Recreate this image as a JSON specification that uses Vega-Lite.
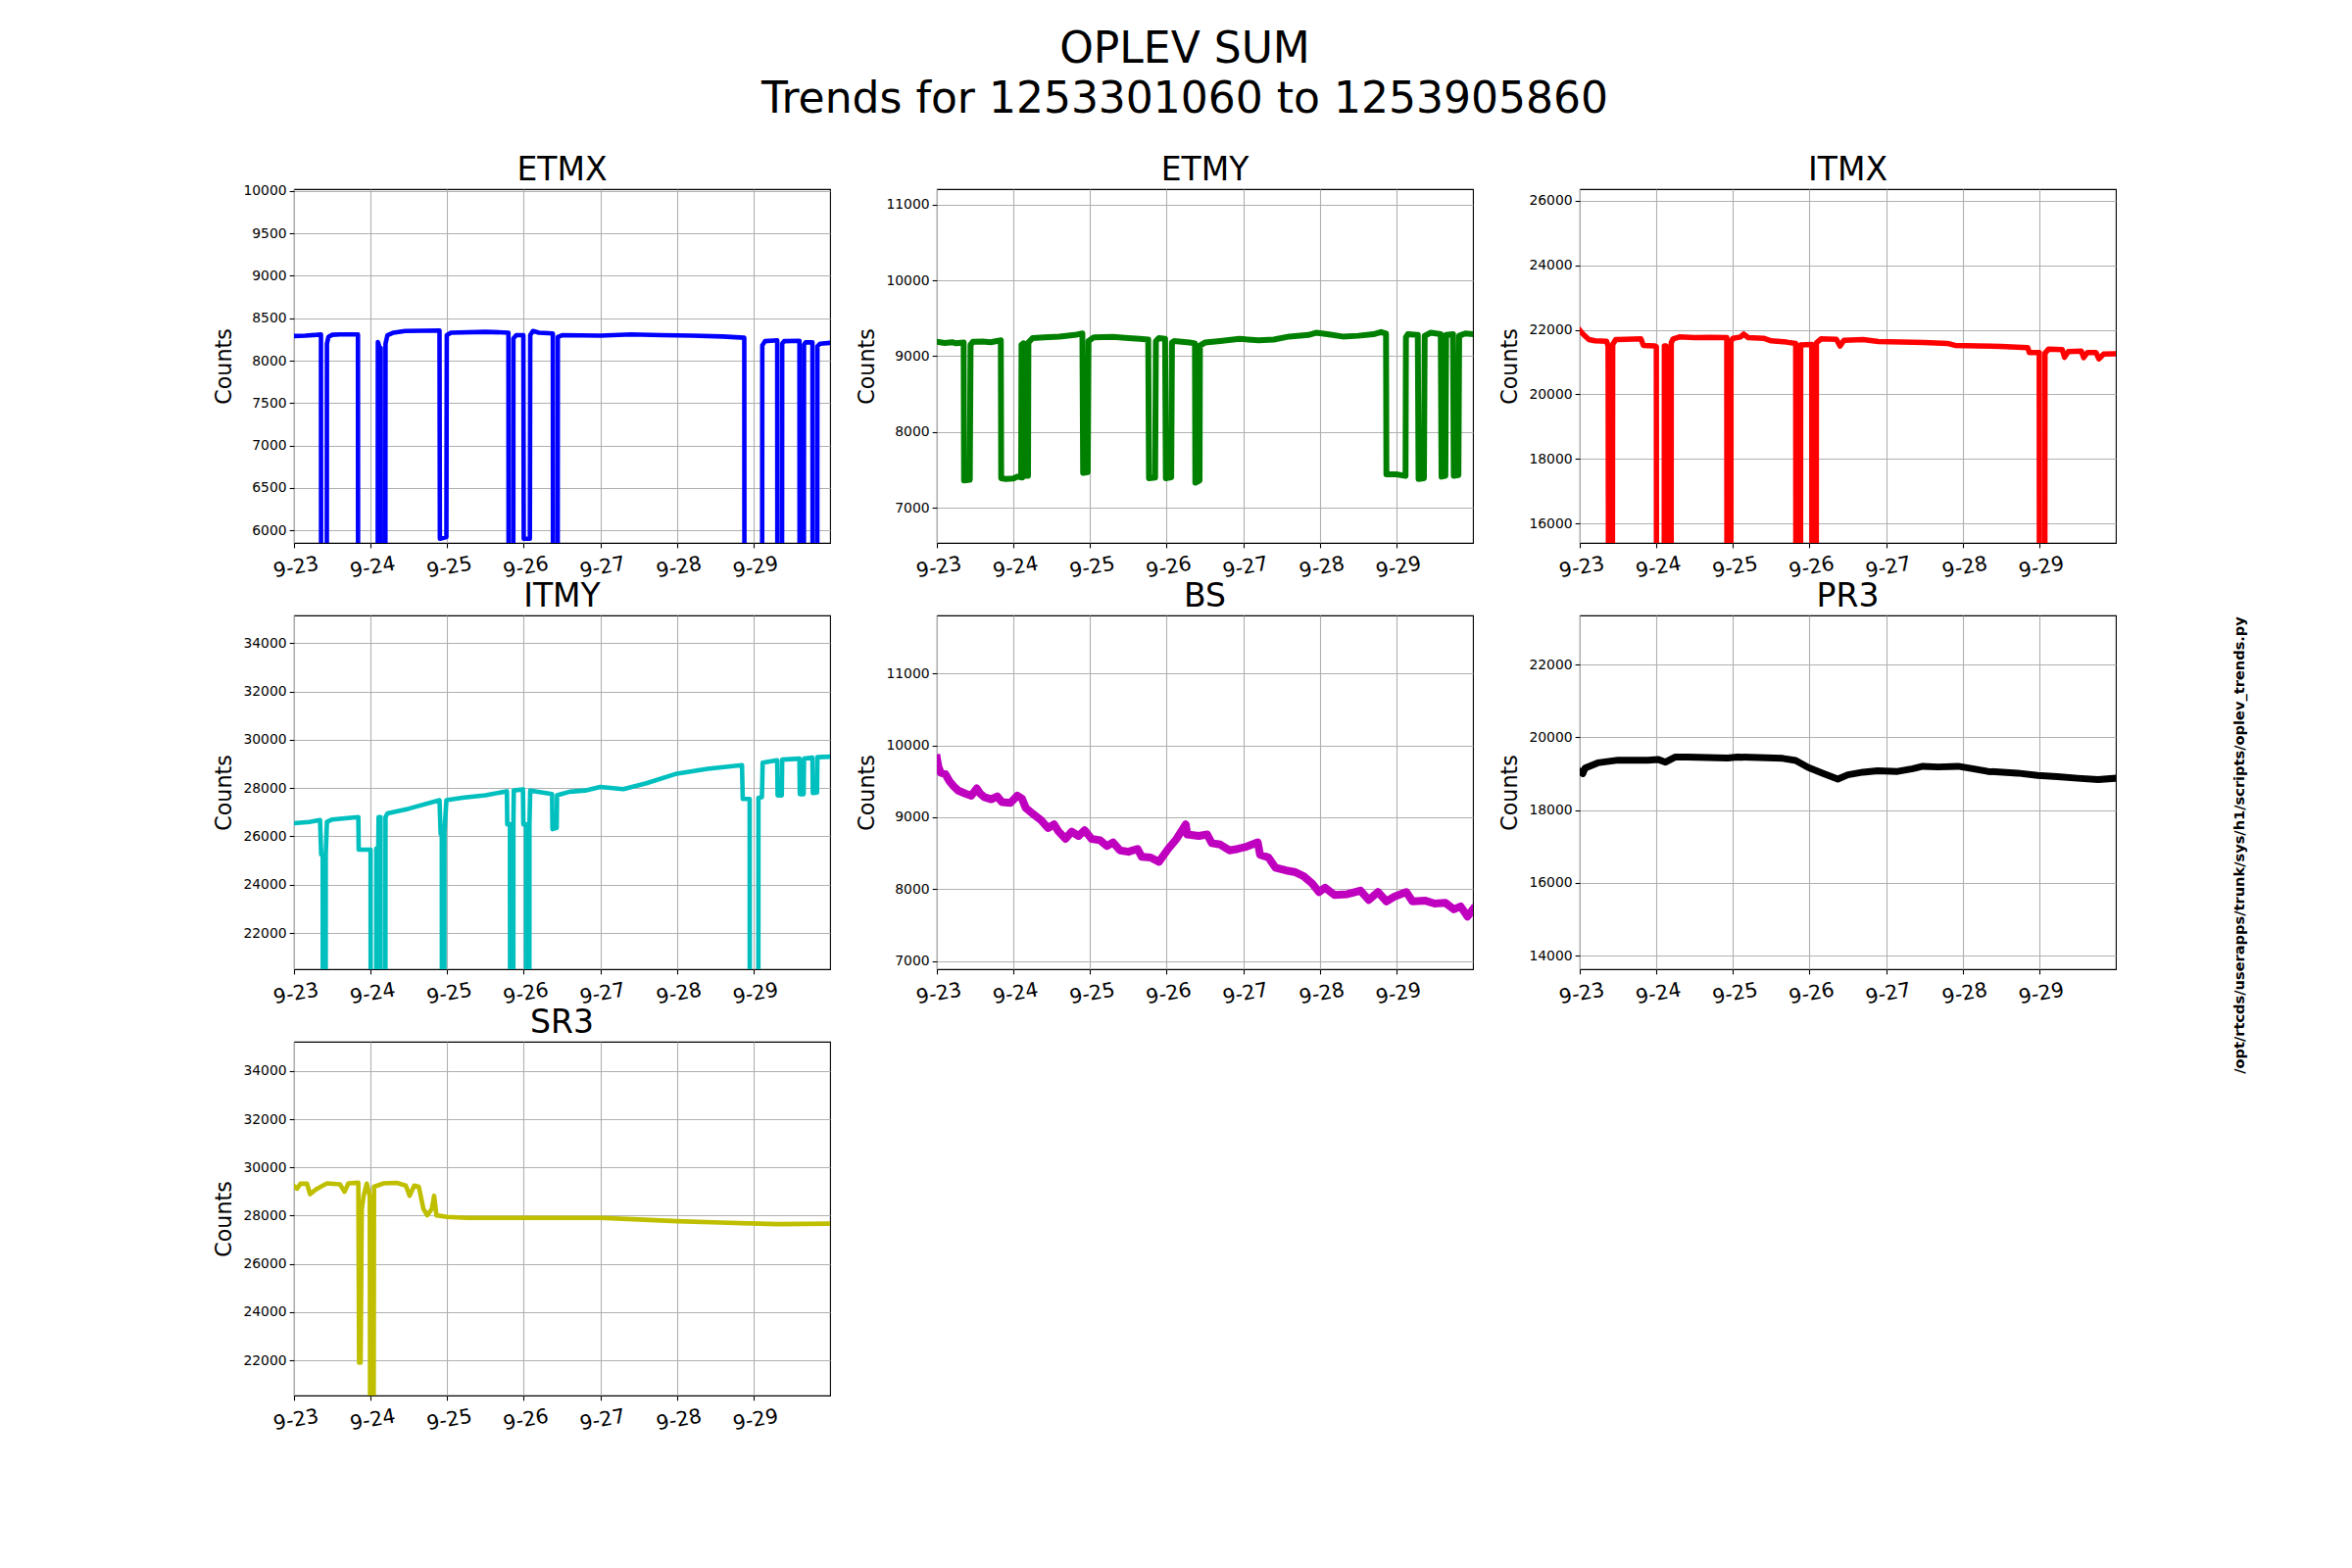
{
  "$schema": "https://vega.github.io/schema/vega-lite/v6.json",
  "background": "white",
  "autosize": {"type": "none"},
  "padding": {"left": 300, "top": 193, "right": 2100, "bottom": 1407},
  "title": {
    "text": ["OPLEV SUM", "Trends for 1253301060 to 1253905860"],
    "fontSize": 44,
    "lineHeight": 51,
    "anchor": "start",
    "align": "center",
    "baseline": "bottom",
    "frame": "group",
    "offset": 30,
    "dx": 909,
    "dy": 41
  },
  "bounds": "flush",
  "columns": 3,
  "spacing": {"row": 74, "column": 109},
  "datasets": {
    "etmx": [
      {"t": 0, "v": 8290}, {"t": 0.15, "v": 8295}, {"t": 0.3, "v": 8305}, {"t": 0.352, "v": 8310},
      {"t": 0.356, "v": 0}, {"t": 0.425, "v": 0}, {"t": 0.43, "v": 8200}, {"t": 0.45, "v": 8280},
      {"t": 0.5, "v": 8305}, {"t": 0.6, "v": 8310}, {"t": 0.835, "v": 8310},
      {"t": 0.84, "v": 0}, {"t": 1.09, "v": 0}, {"t": 1.095, "v": 8220}, {"t": 1.11, "v": 8180},
      {"t": 1.112, "v": 0}, {"t": 1.13, "v": 0}, {"t": 1.132, "v": 8150}, {"t": 1.14, "v": 0},
      {"t": 1.19, "v": 0}, {"t": 1.195, "v": 8200}, {"t": 1.22, "v": 8300}, {"t": 1.3, "v": 8330},
      {"t": 1.45, "v": 8350}, {"t": 1.9, "v": 8355},
      {"t": 1.905, "v": 5900}, {"t": 1.99, "v": 5920}, {"t": 1.995, "v": 8300}, {"t": 2.05, "v": 8330},
      {"t": 2.5, "v": 8340}, {"t": 2.8, "v": 8330},
      {"t": 2.805, "v": 0}, {"t": 2.86, "v": 0}, {"t": 2.865, "v": 8260}, {"t": 2.9, "v": 8300},
      {"t": 2.995, "v": 8300}, {"t": 3.0, "v": 5900}, {"t": 3.08, "v": 5900}, {"t": 3.085, "v": 8300},
      {"t": 3.12, "v": 8350}, {"t": 3.2, "v": 8330}, {"t": 3.38, "v": 8320},
      {"t": 3.385, "v": 0}, {"t": 3.44, "v": 0}, {"t": 3.445, "v": 8280}, {"t": 3.5, "v": 8300},
      {"t": 4.0, "v": 8295}, {"t": 4.4, "v": 8310}, {"t": 4.8, "v": 8300}, {"t": 5.2, "v": 8295},
      {"t": 5.6, "v": 8285}, {"t": 5.88, "v": 8270},
      {"t": 5.885, "v": 0}, {"t": 6.11, "v": 0}, {"t": 6.115, "v": 8180}, {"t": 6.15, "v": 8230},
      {"t": 6.31, "v": 8240}, {"t": 6.315, "v": 0}, {"t": 6.37, "v": 0}, {"t": 6.375, "v": 8200},
      {"t": 6.4, "v": 8230}, {"t": 6.6, "v": 8235}, {"t": 6.605, "v": 0}, {"t": 6.655, "v": 0},
      {"t": 6.66, "v": 8190}, {"t": 6.68, "v": 8215}, {"t": 6.77, "v": 8215},
      {"t": 6.775, "v": 0}, {"t": 6.83, "v": 0}, {"t": 6.835, "v": 8170}, {"t": 6.87, "v": 8200},
      {"t": 7.0, "v": 8210}
    ],
    "etmy": [
      {"t": 0, "v": 9190}, {"t": 0.1, "v": 9175}, {"t": 0.2, "v": 9185}, {"t": 0.25, "v": 9170},
      {"t": 0.35, "v": 9180}, {"t": 0.355, "v": 7360}, {"t": 0.43, "v": 7370}, {"t": 0.44, "v": 9150},
      {"t": 0.47, "v": 9190}, {"t": 0.6, "v": 9195}, {"t": 0.7, "v": 9185}, {"t": 0.835, "v": 9210},
      {"t": 0.84, "v": 7390}, {"t": 0.9, "v": 7380}, {"t": 1.0, "v": 7385}, {"t": 1.05, "v": 7410},
      {"t": 1.1, "v": 7400}, {"t": 1.105, "v": 9150}, {"t": 1.115, "v": 7400}, {"t": 1.13, "v": 9170},
      {"t": 1.14, "v": 7420}, {"t": 1.19, "v": 7420}, {"t": 1.195, "v": 9180}, {"t": 1.25, "v": 9240},
      {"t": 1.4, "v": 9250}, {"t": 1.6, "v": 9260}, {"t": 1.8, "v": 9280}, {"t": 1.9, "v": 9300},
      {"t": 1.91, "v": 7460}, {"t": 1.97, "v": 7470}, {"t": 1.98, "v": 9200}, {"t": 2.05, "v": 9250},
      {"t": 2.3, "v": 9255}, {"t": 2.5, "v": 9240}, {"t": 2.65, "v": 9230}, {"t": 2.76, "v": 9220},
      {"t": 2.77, "v": 7390}, {"t": 2.85, "v": 7400}, {"t": 2.86, "v": 9200}, {"t": 2.9, "v": 9240},
      {"t": 2.98, "v": 9230}, {"t": 2.99, "v": 7390}, {"t": 3.06, "v": 7400}, {"t": 3.07, "v": 9180},
      {"t": 3.1, "v": 9200}, {"t": 3.3, "v": 9180}, {"t": 3.37, "v": 9170},
      {"t": 3.375, "v": 7330}, {"t": 3.43, "v": 7360}, {"t": 3.435, "v": 9140}, {"t": 3.5, "v": 9180},
      {"t": 3.7, "v": 9200}, {"t": 3.95, "v": 9230}, {"t": 4.2, "v": 9210}, {"t": 4.4, "v": 9220},
      {"t": 4.6, "v": 9260}, {"t": 4.85, "v": 9280}, {"t": 4.95, "v": 9310}, {"t": 5.1, "v": 9290},
      {"t": 5.3, "v": 9260}, {"t": 5.5, "v": 9270}, {"t": 5.7, "v": 9290}, {"t": 5.8, "v": 9320},
      {"t": 5.865, "v": 9300}, {"t": 5.87, "v": 7440}, {"t": 6.0, "v": 7440}, {"t": 6.12, "v": 7420},
      {"t": 6.125, "v": 9250}, {"t": 6.15, "v": 9290}, {"t": 6.28, "v": 9280},
      {"t": 6.29, "v": 7380}, {"t": 6.36, "v": 7390}, {"t": 6.37, "v": 9270}, {"t": 6.45, "v": 9310},
      {"t": 6.58, "v": 9290}, {"t": 6.59, "v": 7410}, {"t": 6.64, "v": 7420}, {"t": 6.65, "v": 9280},
      {"t": 6.74, "v": 9290}, {"t": 6.75, "v": 7420}, {"t": 6.81, "v": 7430}, {"t": 6.82, "v": 9270},
      {"t": 6.9, "v": 9300}, {"t": 7.0, "v": 9290}
    ],
    "itmx": [
      {"t": 0, "v": 21990}, {"t": 0.05, "v": 21850}, {"t": 0.12, "v": 21700}, {"t": 0.2, "v": 21660},
      {"t": 0.35, "v": 21650}, {"t": 0.37, "v": 21500}, {"t": 0.385, "v": 0}, {"t": 0.42, "v": 0},
      {"t": 0.43, "v": 21550}, {"t": 0.47, "v": 21700}, {"t": 0.6, "v": 21710}, {"t": 0.8, "v": 21720},
      {"t": 0.83, "v": 21520}, {"t": 0.98, "v": 21500}, {"t": 1.0, "v": 21480},
      {"t": 1.005, "v": 0}, {"t": 1.1, "v": 0}, {"t": 1.105, "v": 21500}, {"t": 1.125, "v": 21500},
      {"t": 1.13, "v": 0}, {"t": 1.19, "v": 0}, {"t": 1.195, "v": 21600}, {"t": 1.22, "v": 21720},
      {"t": 1.3, "v": 21780}, {"t": 1.5, "v": 21760}, {"t": 1.7, "v": 21770}, {"t": 1.92, "v": 21760},
      {"t": 1.925, "v": 0}, {"t": 1.97, "v": 0}, {"t": 1.975, "v": 21650}, {"t": 2.0, "v": 21740},
      {"t": 2.1, "v": 21780}, {"t": 2.14, "v": 21870}, {"t": 2.2, "v": 21760}, {"t": 2.4, "v": 21740},
      {"t": 2.5, "v": 21660}, {"t": 2.7, "v": 21620}, {"t": 2.82, "v": 21580},
      {"t": 2.825, "v": 0}, {"t": 2.88, "v": 0}, {"t": 2.885, "v": 21530}, {"t": 3.03, "v": 21550},
      {"t": 3.035, "v": 0}, {"t": 3.085, "v": 0}, {"t": 3.09, "v": 21600}, {"t": 3.15, "v": 21720},
      {"t": 3.35, "v": 21710}, {"t": 3.4, "v": 21500}, {"t": 3.45, "v": 21680}, {"t": 3.7, "v": 21700},
      {"t": 3.9, "v": 21640}, {"t": 4.2, "v": 21620}, {"t": 4.5, "v": 21610}, {"t": 4.8, "v": 21580},
      {"t": 4.9, "v": 21520}, {"t": 5.2, "v": 21500}, {"t": 5.5, "v": 21490}, {"t": 5.85, "v": 21450},
      {"t": 5.87, "v": 21300}, {"t": 6.0, "v": 21300}, {"t": 6.005, "v": 0}, {"t": 6.07, "v": 0},
      {"t": 6.075, "v": 21280}, {"t": 6.12, "v": 21400}, {"t": 6.3, "v": 21390}, {"t": 6.33, "v": 21150},
      {"t": 6.38, "v": 21330}, {"t": 6.55, "v": 21340}, {"t": 6.58, "v": 21140}, {"t": 6.63, "v": 21300},
      {"t": 6.74, "v": 21300}, {"t": 6.78, "v": 21100}, {"t": 6.84, "v": 21250}, {"t": 7.0, "v": 21260}
    ],
    "itmy": [
      {"t": 0, "v": 26545}, {"t": 0.2, "v": 26600}, {"t": 0.34, "v": 26680}, {"t": 0.355, "v": 25250},
      {"t": 0.375, "v": 25250}, {"t": 0.38, "v": 0}, {"t": 0.41, "v": 0}, {"t": 0.415, "v": 25300},
      {"t": 0.43, "v": 26600}, {"t": 0.5, "v": 26700}, {"t": 0.7, "v": 26760}, {"t": 0.84, "v": 26800},
      {"t": 0.845, "v": 25450}, {"t": 1.0, "v": 25450}, {"t": 1.005, "v": 0}, {"t": 1.07, "v": 0},
      {"t": 1.075, "v": 25500}, {"t": 1.1, "v": 25500}, {"t": 1.105, "v": 26800}, {"t": 1.13, "v": 26800},
      {"t": 1.135, "v": 0}, {"t": 1.19, "v": 0}, {"t": 1.195, "v": 26800}, {"t": 1.22, "v": 26950},
      {"t": 1.5, "v": 27150}, {"t": 1.9, "v": 27500}, {"t": 1.915, "v": 26100}, {"t": 1.93, "v": 26100},
      {"t": 1.935, "v": 0}, {"t": 1.96, "v": 0}, {"t": 1.965, "v": 26200}, {"t": 1.99, "v": 27500},
      {"t": 2.2, "v": 27600}, {"t": 2.5, "v": 27700}, {"t": 2.78, "v": 27870},
      {"t": 2.785, "v": 26500}, {"t": 2.82, "v": 26500}, {"t": 2.825, "v": 0}, {"t": 2.86, "v": 0},
      {"t": 2.865, "v": 26550}, {"t": 2.87, "v": 27900}, {"t": 2.99, "v": 27950},
      {"t": 2.995, "v": 26500}, {"t": 3.03, "v": 26500}, {"t": 3.035, "v": 0}, {"t": 3.07, "v": 0},
      {"t": 3.075, "v": 26550}, {"t": 3.085, "v": 27900}, {"t": 3.37, "v": 27750},
      {"t": 3.375, "v": 26300}, {"t": 3.43, "v": 26350}, {"t": 3.435, "v": 27700}, {"t": 3.6, "v": 27850},
      {"t": 3.8, "v": 27900}, {"t": 4.0, "v": 28050}, {"t": 4.3, "v": 27960}, {"t": 4.6, "v": 28200},
      {"t": 5.0, "v": 28600}, {"t": 5.4, "v": 28800}, {"t": 5.85, "v": 28950},
      {"t": 5.86, "v": 27550}, {"t": 5.95, "v": 27550}, {"t": 5.955, "v": 0}, {"t": 6.06, "v": 0},
      {"t": 6.065, "v": 27600}, {"t": 6.11, "v": 27620}, {"t": 6.12, "v": 29050}, {"t": 6.31, "v": 29150},
      {"t": 6.315, "v": 27700}, {"t": 6.37, "v": 27700}, {"t": 6.375, "v": 29180}, {"t": 6.6, "v": 29220},
      {"t": 6.605, "v": 27750}, {"t": 6.655, "v": 27750}, {"t": 6.66, "v": 29220}, {"t": 6.77, "v": 29260},
      {"t": 6.775, "v": 27800}, {"t": 6.83, "v": 27820}, {"t": 6.835, "v": 29280}, {"t": 7.0, "v": 29300}
    ],
    "bs": [
      {"t": 0, "v": 9820}, {"t": 0.02, "v": 9700}, {"t": 0.05, "v": 9620}, {"t": 0.11, "v": 9600},
      {"t": 0.165, "v": 9500}, {"t": 0.22, "v": 9430}, {"t": 0.28, "v": 9370}, {"t": 0.37, "v": 9330},
      {"t": 0.45, "v": 9300}, {"t": 0.52, "v": 9400}, {"t": 0.565, "v": 9330}, {"t": 0.62, "v": 9280},
      {"t": 0.71, "v": 9250}, {"t": 0.79, "v": 9290}, {"t": 0.85, "v": 9210}, {"t": 0.96, "v": 9200},
      {"t": 1.05, "v": 9300}, {"t": 1.11, "v": 9260}, {"t": 1.16, "v": 9130}, {"t": 1.25, "v": 9050},
      {"t": 1.36, "v": 8960}, {"t": 1.45, "v": 8850}, {"t": 1.53, "v": 8900}, {"t": 1.59, "v": 8800},
      {"t": 1.68, "v": 8700}, {"t": 1.76, "v": 8800}, {"t": 1.85, "v": 8740}, {"t": 1.93, "v": 8820},
      {"t": 2.02, "v": 8700}, {"t": 2.13, "v": 8680}, {"t": 2.22, "v": 8600}, {"t": 2.3, "v": 8650},
      {"t": 2.39, "v": 8540}, {"t": 2.5, "v": 8520}, {"t": 2.62, "v": 8560}, {"t": 2.675, "v": 8450},
      {"t": 2.79, "v": 8440}, {"t": 2.9, "v": 8380}, {"t": 3.02, "v": 8560}, {"t": 3.13, "v": 8700},
      {"t": 3.25, "v": 8900}, {"t": 3.27, "v": 8760}, {"t": 3.42, "v": 8740}, {"t": 3.53, "v": 8760},
      {"t": 3.59, "v": 8640}, {"t": 3.7, "v": 8620}, {"t": 3.82, "v": 8540}, {"t": 3.93, "v": 8560},
      {"t": 4.04, "v": 8590}, {"t": 4.19, "v": 8650}, {"t": 4.22, "v": 8480}, {"t": 4.33, "v": 8440},
      {"t": 4.42, "v": 8300}, {"t": 4.56, "v": 8260}, {"t": 4.67, "v": 8240}, {"t": 4.79, "v": 8180},
      {"t": 4.9, "v": 8080}, {"t": 4.99, "v": 7960}, {"t": 5.07, "v": 8020}, {"t": 5.19, "v": 7920},
      {"t": 5.36, "v": 7930}, {"t": 5.53, "v": 7980}, {"t": 5.64, "v": 7850}, {"t": 5.76, "v": 7960},
      {"t": 5.87, "v": 7830}, {"t": 5.98, "v": 7900}, {"t": 6.13, "v": 7960}, {"t": 6.21, "v": 7830},
      {"t": 6.38, "v": 7840}, {"t": 6.5, "v": 7800}, {"t": 6.64, "v": 7810}, {"t": 6.75, "v": 7720},
      {"t": 6.84, "v": 7760}, {"t": 6.93, "v": 7620}, {"t": 7.0, "v": 7720}
    ],
    "pr3": [
      {"t": 0, "v": 19060}, {"t": 0.04, "v": 19000}, {"t": 0.07, "v": 19154}, {"t": 0.235, "v": 19296},
      {"t": 0.5, "v": 19370}, {"t": 0.89, "v": 19370}, {"t": 1.02, "v": 19390}, {"t": 1.12, "v": 19315},
      {"t": 1.25, "v": 19456}, {"t": 1.41, "v": 19456}, {"t": 1.93, "v": 19428}, {"t": 2.06, "v": 19456},
      {"t": 2.65, "v": 19418}, {"t": 2.82, "v": 19362}, {"t": 2.98, "v": 19173}, {"t": 3.17, "v": 19013},
      {"t": 3.37, "v": 18850}, {"t": 3.5, "v": 18966}, {"t": 3.7, "v": 19040}, {"t": 3.89, "v": 19079},
      {"t": 4.15, "v": 19060}, {"t": 4.35, "v": 19135}, {"t": 4.48, "v": 19201}, {"t": 4.68, "v": 19182},
      {"t": 4.94, "v": 19201}, {"t": 5.13, "v": 19135}, {"t": 5.33, "v": 19060}, {"t": 5.72, "v": 19013},
      {"t": 5.98, "v": 18947}, {"t": 6.24, "v": 18919}, {"t": 6.5, "v": 18872}, {"t": 6.77, "v": 18834},
      {"t": 7.0, "v": 18872}
    ],
    "sr3": [
      {"t": 0, "v": 29230}, {"t": 0.04, "v": 29120}, {"t": 0.085, "v": 29325}, {"t": 0.17, "v": 29325},
      {"t": 0.21, "v": 28890}, {"t": 0.29, "v": 29100}, {"t": 0.43, "v": 29340}, {"t": 0.6, "v": 29300},
      {"t": 0.66, "v": 28990}, {"t": 0.71, "v": 29340}, {"t": 0.84, "v": 29366}, {"t": 0.85, "v": 21900},
      {"t": 0.87, "v": 21900}, {"t": 0.885, "v": 28285}, {"t": 0.91, "v": 28826}, {"t": 0.95, "v": 29330},
      {"t": 0.99, "v": 28800}, {"t": 1.0, "v": 0}, {"t": 1.03, "v": 0}, {"t": 1.045, "v": 29200},
      {"t": 1.17, "v": 29340}, {"t": 1.34, "v": 29360}, {"t": 1.46, "v": 29250}, {"t": 1.51, "v": 28826},
      {"t": 1.57, "v": 29250}, {"t": 1.63, "v": 29200}, {"t": 1.69, "v": 28285}, {"t": 1.74, "v": 28015},
      {"t": 1.8, "v": 28285}, {"t": 1.83, "v": 28826}, {"t": 1.86, "v": 28015}, {"t": 2.0, "v": 27948},
      {"t": 2.26, "v": 27907}, {"t": 4.0, "v": 27907}, {"t": 4.43, "v": 27853}, {"t": 5.0, "v": 27772},
      {"t": 5.57, "v": 27718}, {"t": 5.97, "v": 27678}, {"t": 6.31, "v": 27650}, {"t": 7.0, "v": 27670}
    ]
  },
  "concat": [
    {
      "title": {"text": "ETMX", "offset": -3},
      "width": 547,
      "height": 361,
      "data": {"name": "etmx"},
      "mark": {"type": "line", "color": "#0000ff", "strokeWidth": 4.6, "clip": true},
      "encoding": {
        "x": {"field": "t", "type": "quantitative", "scale": {"domain": [0, 7], "nice": false},
              "axis": {"values": [0, 1, 2, 3, 4, 5, 6], "labelExpr": "'9-' + (23 + datum.value)", "title": null}},
        "y": {"field": "v", "type": "quantitative", "scale": {"domain": [5850, 10023], "nice": false, "zero": false},
              "axis": {"values": [6000, 6500, 7000, 7500, 8000, 8500, 9000, 9500, 10000], "title": "Counts"}}
      }
    },
    {
      "title": "ETMY",
      "width": 547,
      "height": 361,
      "data": {"name": "etmy"},
      "mark": {"type": "line", "color": "#008000", "strokeWidth": 6, "clip": true},
      "encoding": {
        "x": {"field": "t", "type": "quantitative", "scale": {"domain": [0, 7], "nice": false},
              "axis": {"values": [0, 1, 2, 3, 4, 5, 6], "labelExpr": "'9-' + (23 + datum.value)", "title": null}},
        "y": {"field": "v", "type": "quantitative", "scale": {"domain": [6535, 11206], "nice": false, "zero": false},
              "axis": {"values": [7000, 8000, 9000, 10000, 11000], "title": "Counts"}}
      }
    },
    {
      "title": "ITMX",
      "width": 547,
      "height": 361,
      "data": {"name": "itmx"},
      "mark": {"type": "line", "color": "#ff0000", "strokeWidth": 5.5, "clip": true},
      "encoding": {
        "x": {"field": "t", "type": "quantitative", "scale": {"domain": [0, 7], "nice": false},
              "axis": {"values": [0, 1, 2, 3, 4, 5, 6], "labelExpr": "'9-' + (23 + datum.value)", "title": null}},
        "y": {"field": "v", "type": "quantitative", "scale": {"domain": [15394, 26364], "nice": false, "zero": false},
              "axis": {"values": [16000, 18000, 20000, 22000, 24000, 26000], "title": "Counts"}}
      }
    },
    {
      "title": "ITMY",
      "width": 547,
      "height": 361,
      "data": {"name": "itmy"},
      "mark": {"type": "line", "color": "#00bfbf", "strokeWidth": 4.6, "clip": true},
      "encoding": {
        "x": {"field": "t", "type": "quantitative", "scale": {"domain": [0, 7], "nice": false},
              "axis": {"values": [0, 1, 2, 3, 4, 5, 6], "labelExpr": "'9-' + (23 + datum.value)", "title": null}},
        "y": {"field": "v", "type": "quantitative", "scale": {"domain": [20500, 35150], "nice": false, "zero": false},
              "axis": {"values": [22000, 24000, 26000, 28000, 30000, 32000, 34000], "title": "Counts"}}
      }
    },
    {
      "title": "BS",
      "width": 547,
      "height": 361,
      "data": {"name": "bs"},
      "mark": {"type": "line", "color": "#bf00bf", "strokeWidth": 8, "clip": true},
      "encoding": {
        "x": {"field": "t", "type": "quantitative", "scale": {"domain": [0, 7], "nice": false},
              "axis": {"values": [0, 1, 2, 3, 4, 5, 6], "labelExpr": "'9-' + (23 + datum.value)", "title": null}},
        "y": {"field": "v", "type": "quantitative", "scale": {"domain": [6887, 11806], "nice": false, "zero": false},
              "axis": {"values": [7000, 8000, 9000, 10000, 11000], "title": "Counts"}}
      }
    },
    {
      "title": "PR3",
      "width": 547,
      "height": 361,
      "data": {"name": "pr3"},
      "layer": [
        {
          "mark": {"type": "line", "color": "#000000", "strokeWidth": 7, "clip": true},
          "encoding": {
            "x": {"field": "t", "type": "quantitative", "scale": {"domain": [0, 7], "nice": false},
                  "axis": {"values": [0, 1, 2, 3, 4, 5, 6], "labelExpr": "'9-' + (23 + datum.value)", "title": null}},
            "y": {"field": "v", "type": "quantitative", "scale": {"domain": [13623, 23347], "nice": false, "zero": false},
                  "axis": {"values": [14000, 16000, 18000, 20000, 22000], "title": "Counts"}}
          }
        },
        {
          "mark": {"type": "line", "opacity": 0, "clip": true},
          "encoding": {
            "x": {"field": "t", "type": "quantitative"},
            "y": {"field": "v", "type": "quantitative",
                  "axis": {"orient": "right", "labels": false, "ticks": false, "grid": false, "domain": false,
                           "title": "/opt/rtcds/userapps/trunk/sys/h1/scripts/oplev_trends.py",
                           "titleAngle": 270, "titleX": 130, "titleY": 234, "titleAlign": "center",
                           "titleBaseline": "alphabetic", "titleFontSize": 14.6, "titleFontWeight": "bold"}}
          }
        }
      ],
      "resolve": {"axis": {"y": "independent"}}
    },
    {
      "title": "SR3",
      "width": 547,
      "height": 361,
      "data": {"name": "sr3"},
      "mark": {"type": "line", "color": "#bfbf00", "strokeWidth": 4.6, "clip": true},
      "encoding": {
        "x": {"field": "t", "type": "quantitative", "scale": {"domain": [0, 7], "nice": false},
              "axis": {"values": [0, 1, 2, 3, 4, 5, 6], "labelExpr": "'9-' + (23 + datum.value)", "title": null}},
        "y": {"field": "v", "type": "quantitative", "scale": {"domain": [20540, 35215], "nice": false, "zero": false},
              "axis": {"values": [22000, 24000, 26000, 28000, 30000, 32000, 34000], "title": "Counts"}}
      }
    }
  ],
  "config": {
    "font": "DejaVu Sans",
    "view": {"stroke": "black", "strokeWidth": 1.1},
    "line": {"strokeJoin": "round", "strokeCap": "square"},
    "axis": {
      "grid": true,
      "gridColor": "#b0b0b0",
      "gridWidth": 1.1,
      "gridOpacity": 1,
      "domain": false,
      "tickColor": "black",
      "tickSize": 4.9,
      "tickWidth": 1.1,
      "labelColor": "black",
      "labelFont": "DejaVu Sans",
      "labelFontSize": 13.9,
      "labelOverlap": false,
      "labelFlush": false,
      "titleFont": "DejaVu Sans",
      "titleFontWeight": "normal",
      "titleColor": "black"
    },
    "axisX": {"labelFontSize": 20.5, "labelAngle": -10, "labelAlign": "center", "labelBaseline": "top", "labelPadding": 10},
    "axisY": {"titleFontSize": 22.2, "labelPadding": 3, "titlePadding": 7, "format": "d"},
    "title": {"fontSize": 33, "fontWeight": "normal", "font": "DejaVu Sans", "color": "black", "offset": 2, "frame": "group", "anchor": "middle", "baseline": "alphabetic"}
  }
}
